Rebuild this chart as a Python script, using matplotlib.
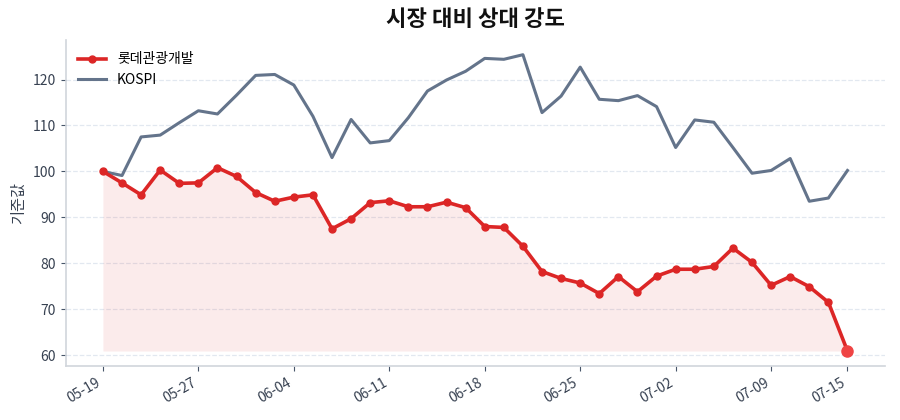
import matplotlib
matplotlib.use('Agg')
import matplotlib.pyplot as plt

plt.rcParams['font.family'] = ['Noto Sans CJK KR', 'DejaVu Sans']

dates = ['05-19', '05-20', '05-21', '05-22', '05-23', '05-27', '05-28', '05-29',
         '05-30', '06-02', '06-04', '06-05', '06-06', '06-09', '06-10', '06-11',
         '06-12', '06-13', '06-16', '06-17', '06-18', '06-19', '06-20', '06-23',
         '06-24', '06-25', '06-26', '06-27', '06-30', '07-01', '07-02', '07-03',
         '07-04', '07-07', '07-08', '07-09', '07-10', '07-11', '07-14', '07-15']
stock = [100.0, 97.5, 94.9, 100.3, 97.4, 97.5, 100.8, 98.9, 95.4, 93.5,
         94.4, 94.9, 87.5, 89.7, 93.2, 93.6, 92.3, 92.3, 93.3, 92.1,
         88.0, 87.8, 83.7, 78.2, 76.7, 75.7, 73.4, 77.1, 73.8, 77.2,
         78.7, 78.7, 79.3, 83.3, 80.2, 75.2, 77.1, 74.9, 71.5, 60.9]
kospi = [100.0, 99.1, 107.5, 107.9, 110.6, 113.2, 112.5, 116.6, 120.9, 121.1,
         118.8, 112.0, 103.0, 111.3, 106.2, 106.7, 111.7, 117.5, 119.9, 121.8,
         124.6, 124.4, 125.4, 112.8, 116.4, 122.7, 115.7, 115.4, 116.5, 114.1,
         105.2, 111.2, 110.7, 105.2, 99.6, 100.2, 102.8, 93.5, 94.2, 100.2]
tick_idx = [0, 5, 10, 15, 20, 25, 30, 35, 39]

red = '#dc2626'
slate = '#64748b'

fig = plt.figure(figsize=(9, 4.2), dpi=100)
ax = fig.add_axes([0.073, 0.129, 0.910, 0.776])

x = list(range(len(stock)))
ax.fill_between(x, stock, min(stock), color=red, alpha=0.09, linewidth=0)
ax.plot(x, kospi, color=slate, linewidth=2.2, label='KOSPI', zorder=2)
ax.plot(x, stock, color=red, linewidth=2.6, marker='o', markersize=5,
        label='롯데관광개발', zorder=3)
ax.plot(x[-1], stock[-1], 'o', color='#ef4444', markersize=8, zorder=4)

ax.set_xticks(tick_idx)
ax.set_xticklabels([dates[i] for i in tick_idx], rotation=30, ha='right')
ax.set_yticks([60, 70, 80, 90, 100, 110, 120])
ax.tick_params(colors='#374151', labelsize=10)
ax.tick_params(axis='both', color='#475569')
ax.set_ylabel('기준값', fontsize=11, color='#374151')
ax.set_title('시장 대비 상대 강도', fontsize=16, fontweight='bold', color='#111111', pad=10)

ax.grid(axis='y', linestyle='--', color='#e2e8f0', linewidth=0.9)
ax.set_axisbelow(True)
for s in ['top', 'right']:
    ax.spines[s].set_visible(False)
for s in ['left', 'bottom']:
    ax.spines[s].set_color('#d1d5db')
    ax.spines[s].set_linewidth(1.2)

# legend: stock first, then KOSPI
h, l = ax.get_legend_handles_labels()
ax.legend([h[1], h[0]], [l[1], l[0]], loc='upper left', frameon=False, fontsize=10)

plt.savefig('out.png')
